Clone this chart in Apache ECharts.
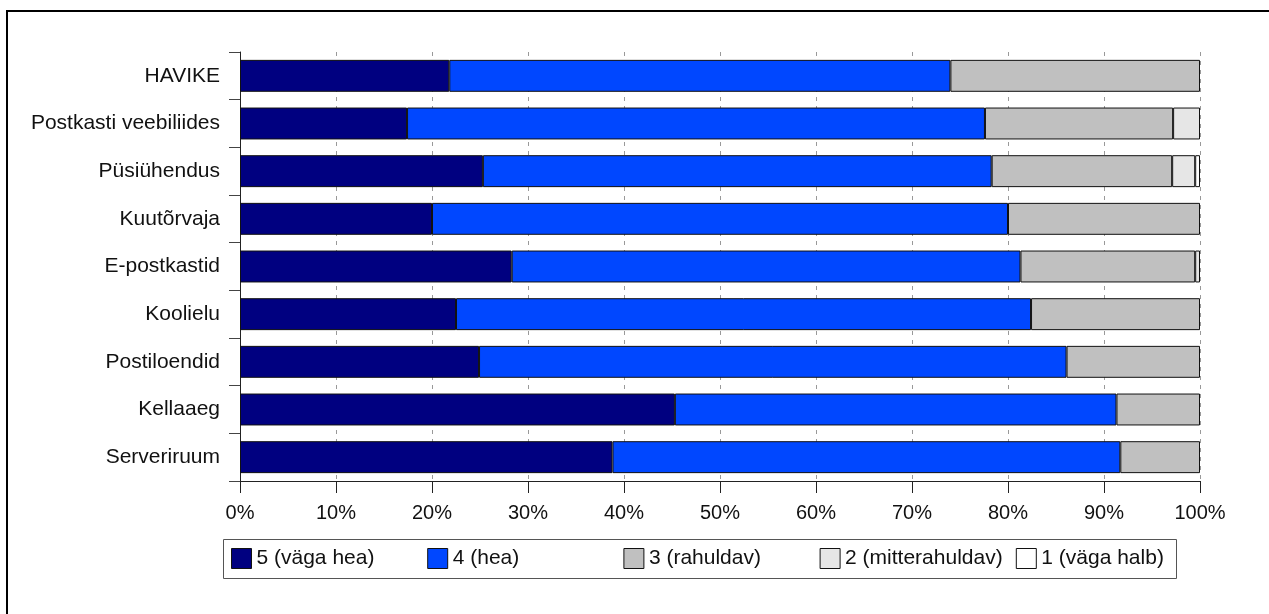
<!DOCTYPE html>
<html lang="et">
<head>
    <meta charset="UTF-8">
    <title>Hinnangud</title>
    <style>
        html, body { margin: 0; padding: 0; background: #fff; }
    </style>
</head>
<body>
<script src="https://cdn.jsdelivr.net/npm/echarts@6/dist/echarts.min.js"></script>
<div id="main" style="width: 1269px;height:614px;"></div>
<script type="text/javascript">
    // andmed (protsendid), ülalt alla
    var categories = ['HAVIKE', 'Postkasti veebiliides', 'Püsiühendus', 'Kuutõrvaja', 'E-postkastid',
        'Koolielu', 'Postiloendid', 'Kellaaeg', 'Serveriruum'];
    var seriesNames = ['5 (väga hea)', '4 (hea)', '3 (rahuldav)', '2 (mitterahuldav)', '1 (väga halb)'];
    var v5 = [21.8, 17.4, 25.3, 20.0, 28.3, 22.5, 24.9, 45.3, 38.8];
    var v4 = [52.2, 60.2, 53.0, 60.0, 53.0, 59.9, 61.2, 46.0, 52.9];
    var v3 = [26.0, 19.6, 18.8, 20.0, 18.2, 17.6, 13.9, 8.7, 8.3];
    var v2 = [0, 2.8, 2.4, 0, 0.5, 0, 0, 0, 0];
    var v1 = [0, 0, 0.5, 0, 0, 0, 0, 0, 0];
    var xTicks = [0, 10, 20, 30, 40, 50, 60, 70, 80, 90, 100];

    var colors = ['#000080', '#0047ff', '#c0c0c0', '#e6e6e6', '#ffffff'];
    var font = '"Liberation Sans", Arial, sans-serif';

    var myChart = echarts.init(document.getElementById('main'));

    var series = [v5, v4, v3, v2, v1].map(function (arr, i) {
        return {
            name: seriesNames[i],
            type: 'bar',
            stack: 'kokku',
            barCategoryGap: '33%',
            data: arr.map(function (v) { return v === 0 ? '-' : v; }),
            itemStyle: { color: colors[i], borderColor: '#111', borderWidth: 1 }
        };
    });

    // legendi kirjed eraldi, et vahed oleks ühtlased (196px)
    var legends = seriesNames.map(function (n, i) {
        return {
            left: 231 + i * 196.2,
            top: 548,
            padding: 0,
            itemWidth: 20,
            itemHeight: 20,
            icon: 'rect',
            itemStyle: { borderColor: '#111', borderWidth: 1 },
            textStyle: { fontFamily: font, fontSize: 21, color: '#111' },
            data: [n]
        };
    });

    var option = {
        animation: false,
        color: colors,
        graphic: [{
            type: 'rect',
            shape: { x: 7, y: 11, width: 1300, height: 700 },
            style: { fill: 'none', stroke: '#000', lineWidth: 2 },
            silent: true
        }, {
            type: 'rect',
            shape: { x: 223.5, y: 539.5, width: 953, height: 39 },
            style: { fill: 'none', stroke: '#555', lineWidth: 1 },
            silent: true
        }],
        legend: legends,
        grid: { left: 240, right: 69, top: 52, bottom: 133, containLabel: false },
        xAxis: {
            type: 'value',
            min: xTicks[0],
            max: xTicks[xTicks.length - 1],
            interval: xTicks[1] - xTicks[0],
            axisLine: { show: true, lineStyle: { color: '#222', width: 1 } },
            axisTick: { show: true, length: 12, lineStyle: { color: '#222' } },
            axisLabel: { formatter: '{value}%', fontFamily: font, fontSize: 20, color: '#111', margin: 22 },
            splitLine: { show: true, lineStyle: { color: '#999', type: [4, 5], width: 1 } }
        },
        yAxis: {
            type: 'category',
            inverse: true,
            data: categories,
            axisLine: { show: true, lineStyle: { color: '#222', width: 1 } },
            axisTick: { show: true, length: 11, lineStyle: { color: '#444' } },
            axisLabel: { fontFamily: font, fontSize: 21, color: '#111', margin: 20 }
        },
        series: series
    };

    myChart.setOption(option);
</script>
</body>
</html>
